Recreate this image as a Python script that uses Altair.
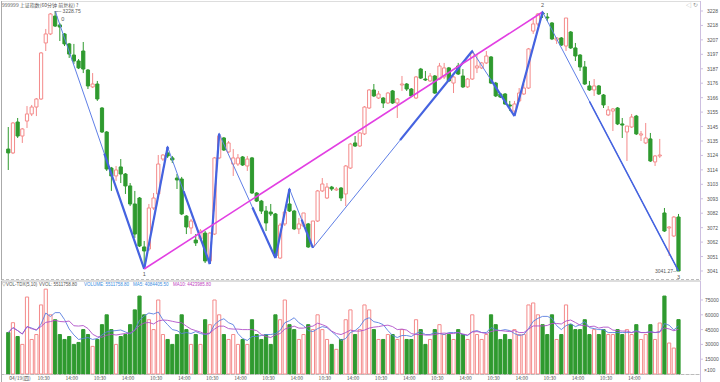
import altair as alt
import pandas as pd

opens = [3129.2, 3126.4, 3148.7, 3138.6, 3149.4, 3154.5, 3159.5, 3165.3, 3205.7, 3212.2,
         3225.1, 3218.7, 3212.2, 3205.0, 3197.0, 3192.7, 3199.9, 3186.2, 3174.0, 3176.1,
         3158.8, 3141.5, 3115.5, 3109.8, 3116.3, 3111.2, 3102.6, 3089.6, 3093.9, 3058.6,
         3057.1, 3086.7, 3096.8, 3122.0, 3126.4, 3122.8, 3108.3, 3107.6, 3080.9, 3072.3,
         3063.6, 3064.3, 3068.6, 3048.5, 3067.9, 3122.8, 3137.2, 3127.1, 3118.4, 3118.4,
         3123.5, 3117.0, 3122.8, 3097.5, 3091.7, 3084.5, 3083.8, 3082.4, 3050.6, 3075.2,
         3089.6, 3084.5, 3071.6, 3073.7, 3075.2, 3059.3, 3077.3, 3099.0, 3093.9, 3101.8,
         3099.7, 3101.1, 3096.8, 3115.5, 3133.6, 3131.4, 3140.1, 3158.8, 3171.8, 3166.0,
         3166.0, 3162.4, 3171.1, 3162.4, 3175.4, 3176.1, 3172.5, 3166.0, 3186.9, 3179.7,
         3178.3, 3181.9, 3179.7, 3181.2, 3187.7, 3176.8, 3189.1, 3181.9, 3174.0, 3179.7,
         3187.7, 3187.7, 3191.3, 3195.6, 3176.8, 3168.9, 3168.9, 3161.0, 3156.6, 3163.9,
         3168.9, 3173.2, 3214.3, 3219.4, 3227.3, 3224.4, 3220.1, 3207.8, 3209.3, 3203.5,
         3213.6, 3202.1, 3197.0, 3188.4, 3174.7, 3171.8, 3174.7, 3168.2, 3153.8, 3156.6,
         3158.8, 3147.3, 3141.5, 3145.1, 3153.0, 3139.3, 3133.6, 3136.5, 3119.9, 3124.2,
         3083.1, 3072.3, 3066.5, 3080.2]
highs = [3145.1, 3148.7, 3151.6, 3144.4, 3160.2, 3161.0, 3166.0, 3199.2, 3215.8, 3227.3,
         3228.75, 3220.1, 3212.9, 3205.7, 3205.0, 3194.1, 3206.4, 3186.9, 3184.0, 3178.3,
         3159.5, 3142.2, 3116.3, 3117.0, 3122.0, 3111.9, 3104.7, 3099.0, 3094.6, 3062.9,
         3089.6, 3097.5, 3124.9, 3125.6, 3130.7, 3124.2, 3111.2, 3109.1, 3081.6, 3078.8,
         3067.9, 3071.5, 3070.1, 3069.4, 3123.5, 3140.1, 3137.9, 3135.0, 3129.2, 3125.6,
         3124.2, 3124.2, 3123.5, 3098.2, 3092.5, 3088.1, 3089.6, 3083.1, 3075.9, 3084.5,
         3100.4, 3085.3, 3079.5, 3083.1, 3075.9, 3077.3, 3099.7, 3108.3, 3104.7, 3102.6,
         3101.8, 3101.8, 3117.7, 3133.6, 3138.6, 3141.5, 3160.2, 3172.5, 3176.1, 3171.1,
         3166.7, 3170.3, 3171.8, 3166.0, 3181.9, 3176.8, 3173.2, 3181.9, 3187.7, 3185.5,
         3184.0, 3182.6, 3191.3, 3191.3, 3188.4, 3181.9, 3191.3, 3186.9, 3180.4, 3199.9,
         3197.7, 3192.0, 3199.9, 3196.3, 3177.6, 3169.6, 3169.6, 3163.9, 3163.9, 3173.2,
         3176.1, 3202.1, 3223.0, 3227.3, 3228.0, 3227.3, 3220.8, 3210.0, 3210.0, 3223.7,
         3214.3, 3205.7, 3197.7, 3192.7, 3178.3, 3179.7, 3175.4, 3168.9, 3160.2, 3158.8,
         3159.5, 3151.6, 3145.8, 3154.5, 3153.8, 3142.2, 3148.0, 3140.8, 3124.9, 3136.5,
         3086.7, 3073.7, 3080.9, 3082.4]
lows = [3114.1, 3125.6, 3137.2, 3133.6, 3144.4, 3153.0, 3153.0, 3164.6, 3199.9, 3211.4,
        3217.2, 3207.1, 3203.5, 3194.9, 3190.5, 3186.9, 3184.0, 3172.5, 3173.2, 3163.9,
        3140.8, 3113.4, 3099.0, 3106.2, 3104.7, 3096.8, 3088.1, 3065.1, 3058.6, 3042.7,
        3055.7, 3085.3, 3096.1, 3120.6, 3122.8, 3119.1, 3100.4, 3081.6, 3067.9, 3067.9,
        3059.3, 3062.9, 3047.0, 3046.3, 3067.2, 3122.0, 3127.8, 3126.4, 3109.8, 3117.0,
        3117.0, 3113.4, 3096.8, 3091.0, 3082.4, 3070.1, 3080.9, 3050.6, 3049.9, 3073.7,
        3083.8, 3070.8, 3067.9, 3073.0, 3057.9, 3057.9, 3076.6, 3098.2, 3093.2, 3099.0,
        3099.0, 3091.7, 3088.1, 3114.8, 3130.7, 3130.7, 3139.3, 3158.1, 3166.7, 3165.3,
        3158.8, 3161.7, 3161.7, 3151.6, 3171.1, 3171.1, 3166.7, 3165.3, 3179.7, 3178.3,
        3177.6, 3168.9, 3179.0, 3179.7, 3177.6, 3169.6, 3182.6, 3173.2, 3173.2, 3179.0,
        3184.0, 3186.9, 3190.5, 3176.1, 3166.7, 3166.0, 3161.0, 3156.6, 3153.0, 3163.1,
        3168.2, 3172.5, 3212.2, 3217.9, 3223.7, 3221.5, 3207.8, 3205.0, 3203.5, 3199.9,
        3201.4, 3192.7, 3185.5, 3175.4, 3171.1, 3167.5, 3168.2, 3158.8, 3153.0, 3142.2,
        3146.5, 3137.2, 3120.6, 3144.4, 3139.3, 3135.0, 3132.8, 3119.9, 3117.0, 3122.8,
        3069.4, 3052.1, 3065.8, 3041.27]
closes = [3126.4, 3148.0, 3138.6, 3143.7, 3154.5, 3159.5, 3165.3, 3198.5, 3212.2, 3226.6,
          3217.9, 3217.2, 3205.0, 3197.7, 3192.7, 3187.7, 3186.9, 3174.7, 3176.1, 3165.3,
          3141.5, 3114.8, 3109.8, 3114.1, 3111.2, 3102.6, 3089.6, 3067.9, 3059.3, 3055.7,
          3086.7, 3093.9, 3118.4, 3124.9, 3124.2, 3121.3, 3106.9, 3082.4, 3073.0, 3077.3,
          3061.5, 3070.1, 3048.5, 3068.6, 3122.8, 3138.6, 3128.5, 3133.6, 3122.8, 3122.8,
          3117.7, 3122.0, 3097.5, 3091.7, 3084.5, 3075.9, 3082.4, 3052.1, 3074.4, 3083.8,
          3084.5, 3071.6, 3075.2, 3083.1, 3058.6, 3077.3, 3099.0, 3104.0, 3101.8, 3100.4,
          3100.4, 3093.9, 3117.0, 3132.8, 3131.4, 3140.8, 3159.5, 3171.8, 3167.5, 3168.9,
          3162.4, 3169.6, 3162.4, 3165.3, 3176.1, 3172.5, 3167.5, 3181.2, 3180.4, 3179.0,
          3181.9, 3169.6, 3189.1, 3187.7, 3178.3, 3181.2, 3183.3, 3174.0, 3179.7, 3198.5,
          3189.1, 3191.3, 3196.3, 3176.8, 3167.5, 3166.7, 3161.7, 3160.2, 3161.7, 3169.6,
          3173.2, 3201.4, 3219.4, 3226.6, 3226.6, 3223.7, 3208.6, 3209.3, 3204.2, 3223.7,
          3202.1, 3196.3, 3188.4, 3176.1, 3171.8, 3174.7, 3168.9, 3161.0, 3157.4, 3158.1,
          3147.3, 3146.5, 3145.8, 3152.3, 3140.1, 3140.1, 3137.2, 3120.6, 3124.2, 3124.9,
          3070.1, 3073.0, 3080.2, 3041.27]
volumes = [42000, 52000, 38000, 30000, 78000, 35000, 40000, 70000, 86000, 60000,
           55000, 40000, 35000, 38000, 30000, 32000, 45000, 40000, 28000, 35000,
           50000, 60000, 45000, 30000, 38000, 40000, 50000, 65000, 79000, 60000,
           55000, 45000, 75000, 40000, 35000, 30000, 40000, 60000, 45000, 30000,
           40000, 30000, 55000, 50000, 75000, 60000, 40000, 35000, 40000, 30000,
           35000, 30000, 55000, 40000, 35000, 40000, 30000, 60000, 55000, 75000,
           50000, 45000, 35000, 40000, 50000, 45000, 60000, 45000, 35000, 30000,
           25000, 35000, 55000, 65000, 40000, 45000, 70000, 65000, 45000, 35000,
           35000, 40000, 40000, 35000, 45000, 35000, 35000, 55000, 45000, 30000,
           35000, 45000, 50000, 40000, 40000, 35000, 45000, 40000, 35000, 60000,
           40000, 35000, 40000, 60000, 50000, 35000, 40000, 35000, 45000, 40000,
           40000, 70000, 72000, 60000, 50000, 40000, 60000, 35000, 40000, 70000,
           50000, 45000, 45000, 55000, 40000, 45000, 40000, 45000, 40000, 40000,
           45000, 40000, 45000, 40000, 50000, 35000, 40000, 50000, 35000, 51700,
           79000, 31400, 26300, 55118]

# zigzag turning points (bar index, price)
zz_i = [10, 29, 34, 43, 45, 57, 60, 65, 99, 108, 114, 143]
zz_p = [3228.75, 3042.7, 3130.7, 3046.3, 3140.1, 3050.6, 3100.4, 3057.9, 3199.9, 3153.0, 3228.0, 3041.27]
# heavy segments (start index, start price, end index, end price)
thick_segs = [
    (20.5, 3125.9, 29, 3042.7),
    (29, 3042.7, 34, 3130.7),
    (37.4, 3098.8, 43, 3046.3),
    (43, 3046.3, 45, 3140.1),
    (52.1, 3087.1, 57, 3050.6),
    (57, 3050.6, 60, 3100.4),
    (62.6, 3078.3, 65, 3057.9),
    (83.6, 3135.6, 99, 3199.9),
    (103.0, 3179.1, 108, 3153.0),
    (108, 3153.0, 114, 3228.0),
]
mid_seg_i = [124, 143]
mid_seg_p = [3163.6, 3041.27]
trend_i = [29, 114]
trend_p = [3042.7, 3228.0]

price_ticks = [3041.27, 3051.69, 3062.10, 3072.52, 3082.93, 3093.35, 3103.77, 3114.18, 3124.60,
               3135.01, 3145.43, 3155.85, 3166.26, 3176.68, 3187.09, 3197.51, 3207.93, 3218.34,
               3228.75]
price_labels = ["3041", "3051", "3062", "3072", "3082", "3093", "3103", "3114", "3124", "3135",
                "3145", "3155", "3166", "3176", "3187", "3197", "3207", "3218", "3228"]
vol_ticks = [15000, 30000, 45000, 60000, 75000]
vol_labels = ["15000", "30000", "45000", "60000", "75000"]
time_pos = [0, 6, 12, 18, 24, 30, 36, 42, 48, 54, 60, 66, 72, 78, 84, 90, 96, 102, 108, 114, 120, 126, 132]
time_txt = ["04/19(四)", "10:30", "14:00", "10:30", "14:00", "10:30", "14:00", "10:30", "14:00",
            "10:30", "14:00", "10:30", "14:00", "10:30", "14:00", "10:30", "14:00", "10:30",
            "14:00", "10:30", "14:00", "10:30", "14:00"]

UP = "#f48a8a"
DOWN = "#2f9a2f"
BLUE = "#4563e0"
THIN = "#5f7fe6"
MAG = "#e23fe2"
GREY = "#555555"
AXC = "#cdbfe0"
FONT = "Liberation Sans"
CJK = "Noto Sans CJK SC"

W = 699
DX = 4.755
X0 = 2.3
xdom = [-X0 / DX, (W - X0) / DX]
H1 = 279
H2 = 93
ydom = [3228.75 - 0.7211 * (H1 - 10), 3228.75 + 0.7211 * 10]
vdom = [0, H2 * 1013.5]

df = pd.DataFrame({"i": list(range(len(opens))), "open": opens, "high": highs,
                   "low": lows, "close": closes, "vol": volumes})
df["dir"] = ["up" if c >= o else "down" for o, c in zip(opens, closes)]

xs = alt.X("i:Q", scale=alt.Scale(domain=xdom, nice=False, zero=False), axis=None)
ys = alt.Scale(domain=ydom, nice=False, zero=False)
dirs = ["up", "down"]
color = alt.Color("dir:N", scale=alt.Scale(domain=dirs, range=[UP, DOWN]), legend=None)
stroke = alt.Stroke("dir:N", scale=alt.Scale(domain=dirs, range=[UP, DOWN]), legend=None)
fill = alt.Fill("dir:N", scale=alt.Scale(domain=dirs, range=["#ffffff", DOWN]), legend=None)


def one():
    return alt.Chart(pd.DataFrame({"a": [0]}))


base = alt.Chart(df)
wick = base.mark_rule(strokeWidth=1).encode(
    x=xs, y=alt.Y("low:Q", scale=ys, axis=None), y2="high:Q", color=color)
body = base.mark_bar(size=3.2, strokeWidth=1).encode(
    x=xs, y=alt.Y("open:Q", scale=ys, axis=None), y2="close:Q", stroke=stroke, fill=fill)

zz = pd.DataFrame({"i": zz_i, "p": zz_p})
zz_line = alt.Chart(zz).mark_line(color=THIN, strokeWidth=1).encode(
    x=xs, y=alt.Y("p:Q", scale=ys, axis=None), order="i:Q")
rows = []
for k, (a, b, c, d) in enumerate(thick_segs):
    rows.append({"seg": k, "o": 0, "i": a, "p": b})
    rows.append({"seg": k, "o": 1, "i": c, "p": d})
thick = alt.Chart(pd.DataFrame(rows)).mark_line(color=BLUE, strokeWidth=2.2).encode(
    x=xs, y=alt.Y("p:Q", scale=ys, axis=None), detail="seg:N", order="o:Q")
mid_seg = alt.Chart(pd.DataFrame({"i": mid_seg_i, "p": mid_seg_p})).mark_line(
    color=BLUE, strokeWidth=1.5).encode(x=xs, y=alt.Y("p:Q", scale=ys, axis=None))
trend = alt.Chart(pd.DataFrame({"i": trend_i, "p": trend_p})).mark_line(
    color=MAG, strokeWidth=1.6).encode(x=xs, y=alt.Y("p:Q", scale=ys, axis=None))
arrows = alt.Chart(pd.DataFrame({"i": [34, 45, 60, 99, 114],
                                 "p": [3130.7, 3140.1, 3100.4, 3199.9, 3228.0]})).mark_point(
    shape="triangle-up", size=12, filled=True, color=BLUE, opacity=1).encode(
    x=xs, y=alt.Y("p:Q", scale=ys, axis=None))


def tlabel(i, p, t, align, dx=0, dy=0, size=5.5):
    return alt.Chart(pd.DataFrame([{"i": i, "p": p}])).mark_text(
        text=t, fontSize=size, color=GREY, font=FONT, align=align, dx=dx, dy=dy,
        baseline="middle").encode(x=xs, y=alt.Y("p:Q", scale=ys, axis=None))


lab_txt = [
    tlabel(10, 3228.75, "┌─ 3228.75", "left", dx=-1, dy=0, size=5),
    tlabel(10, 3228.75, "0", "left", dx=6, dy=8),
    tlabel(29, 3042.7, "1", "center", dy=5),
    tlabel(114, 3228.0, "2", "center", dy=-7),
    tlabel(143, 3041.27, "3", "center", dy=6),
    tlabel(143, 3041.27, "3041.27─", "right", dx=-2, dy=0, size=5),
]

# price axis drawn as text + tick marks
pax = pd.DataFrame({"p": price_ticks, "t": price_labels})
p_lab = alt.Chart(pax).mark_text(fontSize=5, color=GREY, font=FONT, align="left",
                                 baseline="middle").encode(
    x=alt.value(W + 7), y=alt.Y("p:Q", scale=ys, axis=None), text="t:N")
p_tick = alt.Chart(pax).mark_rule(color=AXC).encode(
    x=alt.value(W), x2=alt.value(W + 3), y=alt.Y("p:Q", scale=ys, axis=None))
p_dom = one().mark_rule(color=AXC).encode(x=alt.value(W + 0.5), y=alt.value(0), y2=alt.value(H1))

title = one().mark_text(
    text="999999 上证指数(60分钟 前复权) ?", fontSize=5, color=GREY, font=CJK, align="left",
    baseline="middle").encode(x=alt.value(1), y=alt.value(4))
icons = one().mark_text(
    text="◁ ↻", fontSize=6, color="#999999", font=CJK, align="right",
    baseline="middle").encode(x=alt.value(W - 2), y=alt.value(4))
sep1 = one().mark_rule(color="#bbbbbb", strokeDash=[3, 2]).encode(
    x=alt.value(0), x2=alt.value(W), y=alt.value(H1 - 0.5))
lborder1 = one().mark_rule(color="#aaaaaa").encode(
    x=alt.value(0.5), y=alt.value(0), y2=alt.value(H1))

top = alt.layer(wick, body, zz_line, thick, mid_seg, trend, arrows, *lab_txt, title, icons,
                sep1, lborder1, p_tick, p_lab, p_dom).properties(width=W, height=H1)

vs = alt.Scale(domain=vdom, nice=False, zero=True)
vbar = base.mark_bar(size=3.2, strokeWidth=1).encode(
    x=xs, y=alt.Y("vol:Q", scale=vs, axis=None),
    y2=alt.value(H2), stroke=stroke, fill=fill)
ma5 = base.transform_window(m="mean(vol)", frame=[-4, 0]).mark_line(
    color="#5a7fe0", strokeWidth=0.9).encode(x=xs, y=alt.Y("m:Q", scale=vs, axis=None))
ma10 = base.transform_window(m="mean(vol)", frame=[-9, 0]).mark_line(
    color="#b050c8", strokeWidth=0.9).encode(x=xs, y=alt.Y("m:Q", scale=vs, axis=None))

vax = pd.DataFrame({"v": vol_ticks, "t": vol_labels})
v_lab = alt.Chart(vax).mark_text(fontSize=5, color=GREY, font=FONT, align="left",
                                 baseline="middle").encode(
    x=alt.value(W + 5), y=alt.Y("v:Q", scale=vs, axis=None), text="t:N")
v_tick = alt.Chart(vax).mark_rule(color=AXC).encode(
    x=alt.value(W), x2=alt.value(W + 3), y=alt.Y("v:Q", scale=vs, axis=None))
v_dom = one().mark_rule(color=AXC).encode(x=alt.value(W + 0.5), y=alt.value(0), y2=alt.value(H2 + 8))

leg_x = [1, 38, 83, 132, 172]
leg_t = ["▽VOL-TDX(5,10)", "VVOL: 5511758.80", "VOLUME: 5511758.80", "MA5: 4084405.50",
         "MA10: 4423985.80"]
leg_c = [GREY, GREY, "#3a8de0", "#3a8de0", "#c040c0"]
legs = [one().mark_text(
    text=t, fontSize=4.5, color=c, font=FONT, align="left", baseline="middle").encode(
    x=alt.value(x), y=alt.value(4)) for x, t, c in zip(leg_x, leg_t, leg_c)]

tdf = pd.DataFrame({"i": time_pos, "t": time_txt})
tlab = alt.Chart(tdf).mark_text(fontSize=5, color=GREY, font=CJK, align="left",
                                baseline="middle", dx=1).encode(
    x=xs, y=alt.value(H2 + 4), text="t:N")
sep2 = one().mark_rule(color="#bbbbbb", strokeDash=[3, 2]).encode(
    x=alt.value(0), x2=alt.value(W), y=alt.value(H2 + 0.5))
lborder2 = one().mark_rule(color="#aaaaaa").encode(
    x=alt.value(0.5), y=alt.value(0), y2=alt.value(H2 + 8))
unit = one().mark_text(
    text="×100", fontSize=5, color=GREY, font=FONT, align="left", baseline="middle").encode(
    x=alt.value(W + 4), y=alt.value(H2 - 4))

bottom = alt.layer(vbar, ma5, ma10, *legs, tlab, sep2, lborder2, v_tick, v_lab, v_dom,
                   unit).properties(width=W, height=H2)

chart = alt.vconcat(top, bottom, spacing=1, bounds="flush").properties(padding=0).configure_view(
    stroke=None).configure(background="white")
chart.save("out.html", embed_options={"renderer": "svg", "actions": False})
